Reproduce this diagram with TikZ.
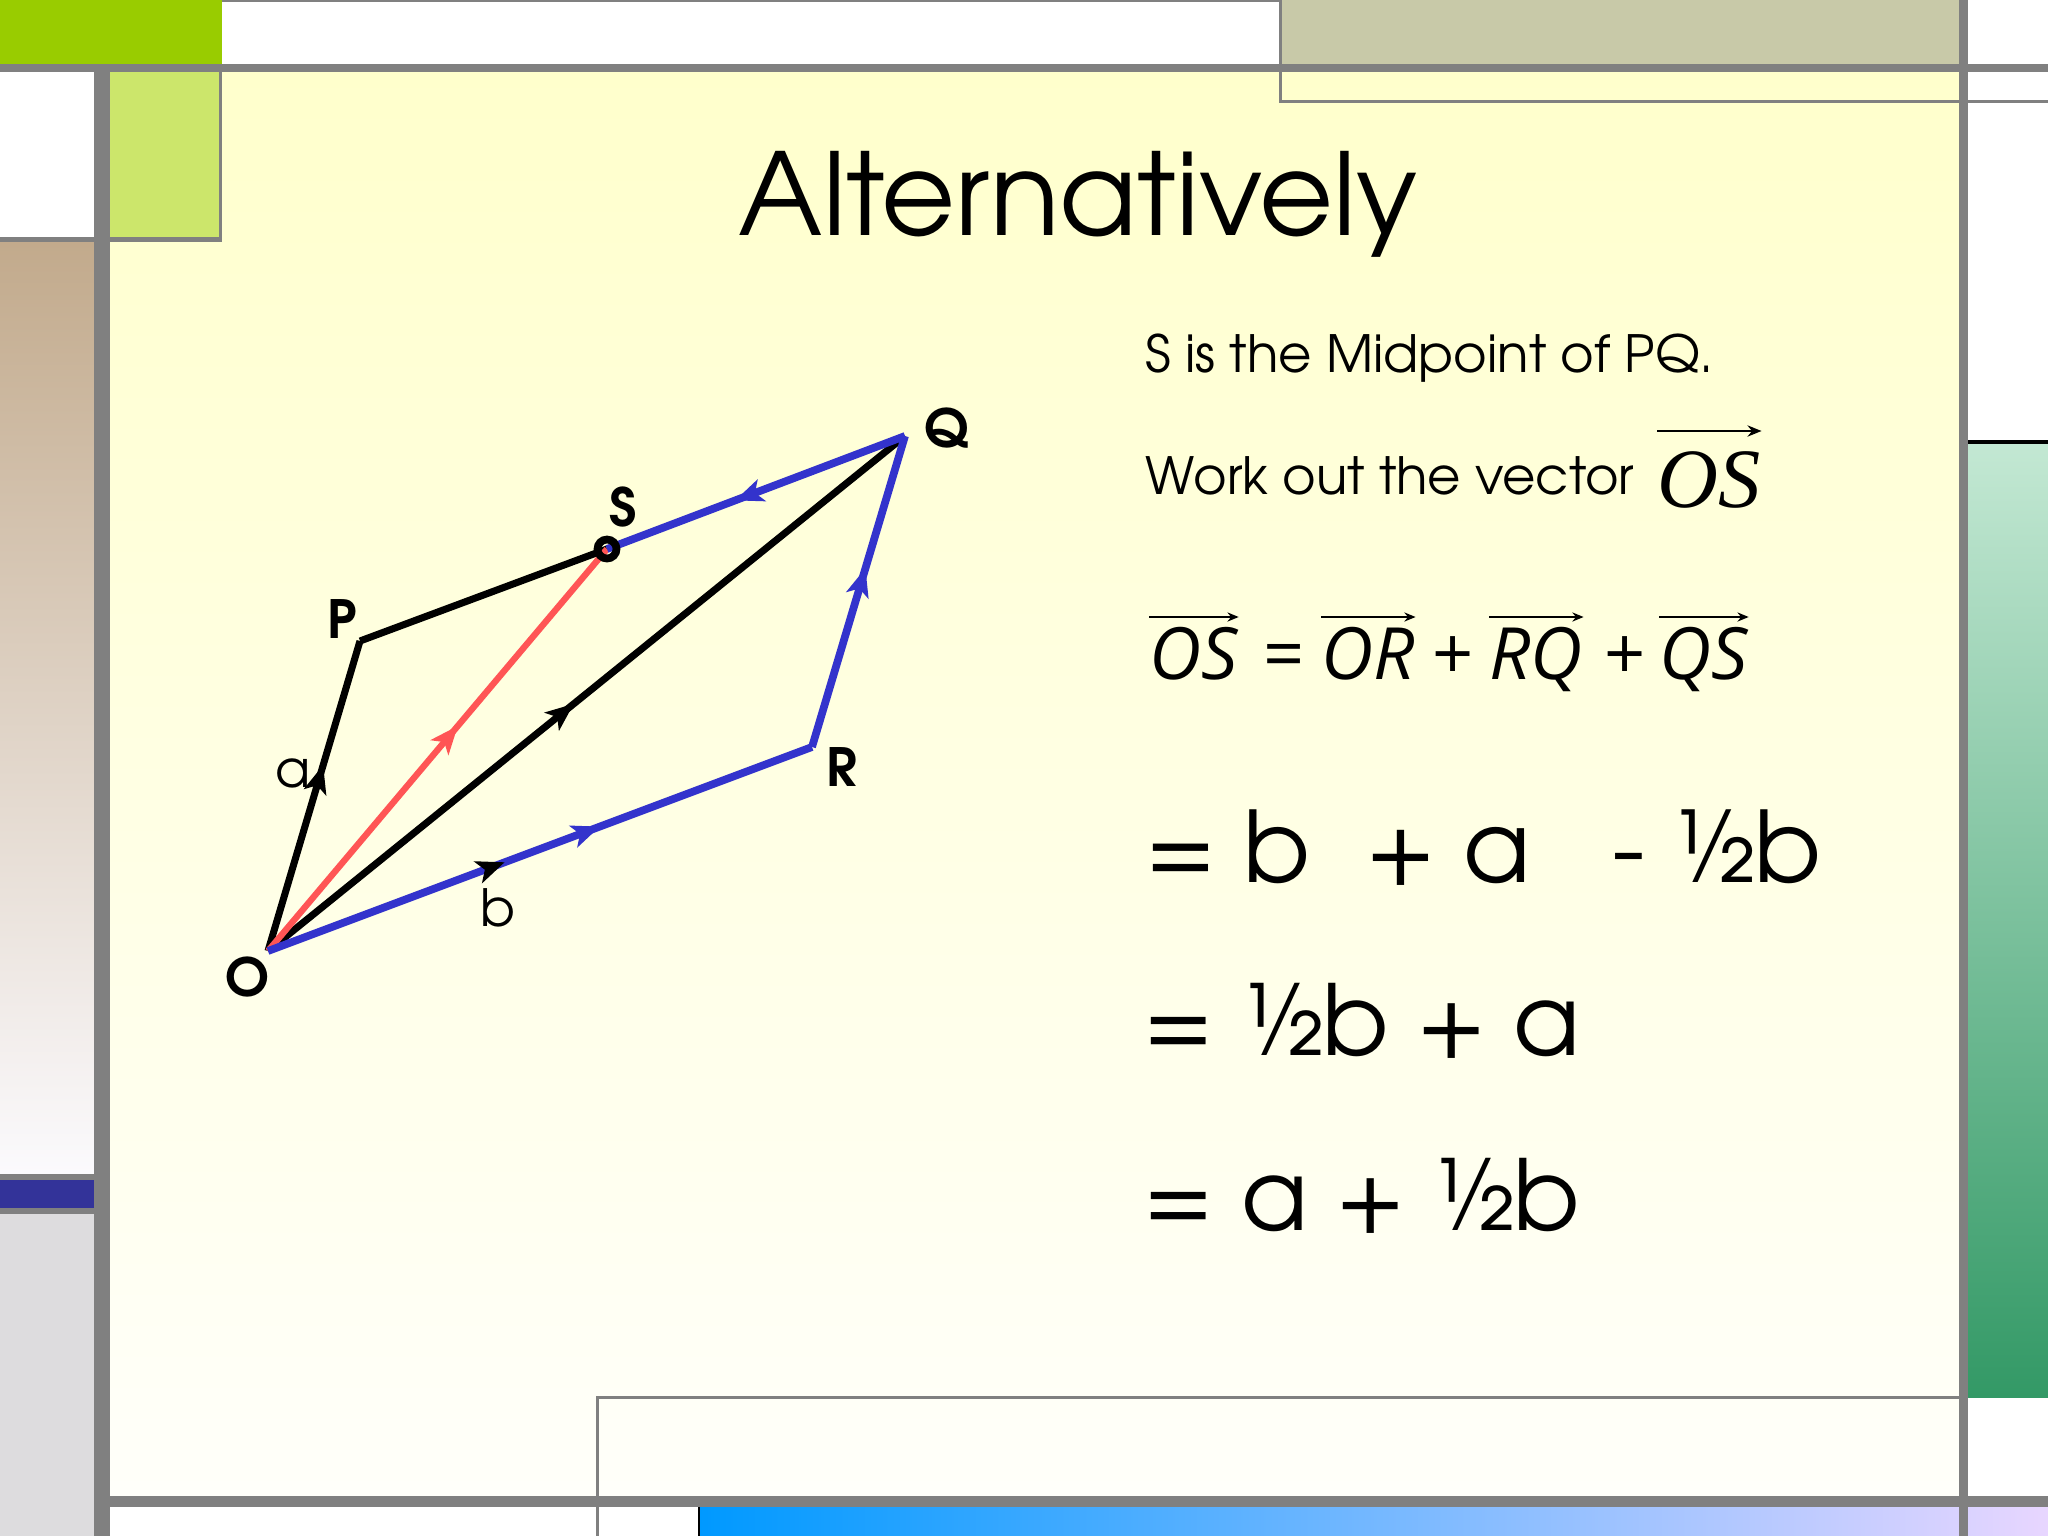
\documentclass[tikz,border=0pt]{standalone}
\usepackage{fontspec}
\setmainfont{texgyreadventor}[Extension=.otf,UprightFont=*-regular,BoldFont=*-bold,ItalicFont=*-italic,BoldItalicFont=*-bolditalic]
\newfontfamily\eqfont{Open Sans}
\newfontfamily\serfont{Liberation Serif}
\usetikzlibrary{arrows.meta,decorations.markings}
\definecolor{frame}{HTML}{808080}
\definecolor{topgreen}{HTML}{99CC00}
\definecolor{lightgreen}{HTML}{CCE66B}
\definecolor{khaki}{HTML}{C8C9A8}
\definecolor{bgtop}{HTML}{FFFFCC}
\definecolor{bgbot}{HTML}{FFFFFA}
\definecolor{tantop}{HTML}{C2AA8C}
\definecolor{tanbot}{HTML}{FBFAFD}
\definecolor{navy}{HTML}{333399}
\definecolor{lgray}{HTML}{DDDCDE}
\definecolor{gtop}{HTML}{C3E8D3}
\definecolor{gbot}{HTML}{339966}
\definecolor{bbleft}{HTML}{0099FF}
\definecolor{bbright}{HTML}{E8D6FF}
\definecolor{vblue}{HTML}{3333CC}
\definecolor{vred}{HTML}{FF5555}
\begin{document}
\begin{tikzpicture}[x=0.01cm,y=-0.01cm,
  frm/.style={fill=frame},
  blk/.style={draw=black,line width=2pt},
  bluev/.style={draw=vblue,line width=2.2pt},
  redv/.style={draw=vred,line width=1.8pt},
  midtip/.style 2 args={postaction={decorate,decoration={markings,mark=at position #1 with {\arrow[#2]{Stealth[length=8pt,width=6.5pt,inset=2pt]}}}}},
  ptlabel/.style={font=\bfseries\fontsize{15}{16}\selectfont,inner sep=0pt},
  veclabel/.style={font=\fontsize{14.6}{15}\selectfont,inner sep=0pt},
  txt/.style={inner sep=0pt,anchor=base west},
  eqtxt/.style={inner sep=0pt,anchor=base west,font=\eqfont\itshape\fontsize{20.5}{24}\selectfont},
  eqop/.style={inner sep=0pt,anchor=base west,font=\eqfont\fontsize{20.5}{24}\selectfont},
  vecbar/.style={draw=black,line width=0.6pt,-{Stealth[length=3.2pt,width=2.6pt]}},
  vecbarbig/.style={draw=black,line width=0.75pt,-{Stealth[length=4pt,width=3.2pt]}},
]
\useasboundingbox (0,0) rectangle (2048,1536);
% ---------- frame ----------
\fill[white] (0,0) rectangle (2048,1536);
\shade[top color=bgtop,bottom color=bgbot] (110,72) rectangle (1959,1496);
\fill[topgreen] (0,0) rectangle (222,64);
\fill[frm] (222,0) rectangle (1280,2);
\fill[khaki] (1280,0) rectangle (1959,64);
\fill[frm] (1279,0) rectangle (1282,102);
\fill[frm] (1279,100) rectangle (2048,103);
\fill[frm] (0,64) rectangle (2048,72);
\fill[lightgreen] (110,72) rectangle (220,237);
\fill[frm] (219,72) rectangle (222,242);
\fill[frm] (0,237) rectangle (222,242);
\shade[top color=tantop,bottom color=tanbot] (0,242) rectangle (94,1174);
\fill[frm] (0,1174) rectangle (94,1180);
\fill[navy] (0,1180) rectangle (94,1208);
\fill[frm] (0,1208) rectangle (94,1214);
\fill[lgray] (0,1214) rectangle (94,1536);
\fill[frm] (94,72) rectangle (110,1536);
\fill[black] (1963,440) rectangle (2048,444);
\shade[top color=gtop,bottom color=gbot] (1968,444) rectangle (2048,1397);
\fill[frm] (596,1396) rectangle (1959,1399);
\fill[frm] (596,1396) rectangle (599,1536);
\fill[frm] (110,1496) rectangle (2048,1507);
\shade[left color=bbleft,right color=bbright] (699,1507) rectangle (2048,1536);
\fill[black] (698,1507) rectangle (700,1536);
\fill[frm] (1959,0) rectangle (1968,1536);
% ---------- title and text ----------
\node[inner sep=0pt,anchor=base] (title) at (1078,235) {\fontsize{32.4}{36}\selectfont Alternatively};
\node[txt] (t1) at (1145,372) {\fontsize{14.6}{16}\selectfont S is the Midpoint of PQ.};
\node[txt] (t2) at (1145,494) {\fontsize{14.6}{16}\selectfont Work out the vector};
\node[txt] (t3) at (1657,507) {\fontsize{24}{26}\selectfont\serfont\itshape OS};
\coordinate (osarrow) at (1700,431);
\draw[vecbarbig] (t3.west |- osarrow) -- (t3.east |- osarrow);
% equation with vector arrows
\node[eqtxt] (eOS) at (1149,679) {OS};
\node[eqop] (eEq) at (1263,679) {=};
\node[eqtxt] (eOR) at (1321,679) {OR};
\node[eqop] (ePa) at (1432,679) {+};
\node[eqtxt] (eRQ) at (1489,679) {RQ};
\node[eqop] (ePb) at (1604,679) {+};
\node[eqtxt] (eQS) at (1659,679) {QS};
\coordinate (eqarrow) at (1400,617);
\draw[vecbar] (eOS.west |- eqarrow) -- (eOS.east |- eqarrow);
\draw[vecbar] (eOR.west |- eqarrow) -- (eOR.east |- eqarrow);
\draw[vecbar] (eRQ.west |- eqarrow) -- (eRQ.east |- eqarrow);
\draw[vecbar] (eQS.west |- eqarrow) -- (eQS.east |- eqarrow);
\node[txt] (l1) at (1145,882) {\fontsize{28}{32}\selectfont = b~ + a~~ - ½b};
\node[txt] (l2) at (1143,1055) {\fontsize{27.8}{32}\selectfont = ½b + a};
\node[txt] (l3) at (1143,1230) {\fontsize{27.8}{32}\selectfont = a + ½b};
% ---------- diagram ----------
\coordinate (O) at (268,951);
\coordinate (P) at (360,641);
\coordinate (Q) at (905,436);
\coordinate (R) at (812,747);
\coordinate (S) at (607,549);
\draw[blk,midtip={0.6}{black}] (O) -- (P);
\draw[blk] (P) -- (S);
\draw[blk,midtip={0.48}{black}] (O) -- (Q);
\draw[redv,midtip={0.56}{vred}] (O) -- (S);
\draw[bluev,midtip={0.435}{black},midtip={0.61}{vblue}] (O) -- (R);
\draw[bluev,midtip={0.575}{vblue}] (R) -- (Q);
\draw[bluev,midtip={0.57}{vblue}] (Q) -- (S);
\draw[black,line width=2.2pt] (S) circle[radius=0.95mm];
\node[ptlabel] (Ol) at (248,977) {O};
\node[ptlabel] (Pl) at (342,619) {P};
\node[ptlabel] (Sl) at (623,507) {S};
\node[ptlabel] (Ql) at (947,428) {Q};
\node[ptlabel] (Rl) at (842,767) {R};
\node[veclabel] (al) at (293,773) {a};
\node[veclabel] (bl) at (498,908) {b};
\end{tikzpicture}
\end{document}
